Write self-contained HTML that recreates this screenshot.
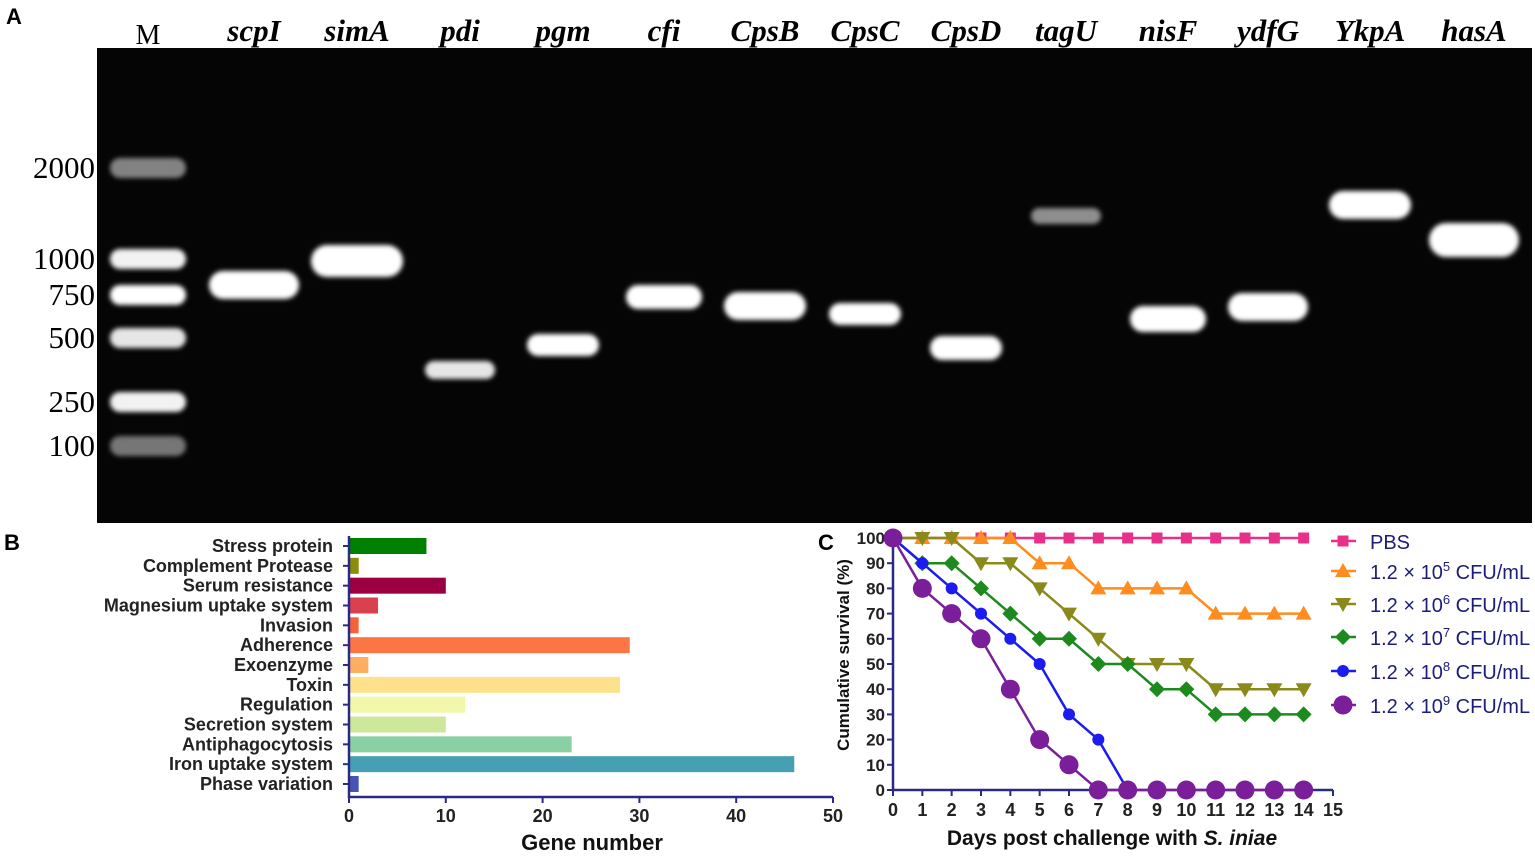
<!DOCTYPE html>
<html><head><meta charset="utf-8">
<style>
html,body{margin:0;padding:0;background:#fff;width:1535px;height:858px;overflow:hidden}
svg{display:block}
.ser{font-family:"Liberation Serif",serif}
.sans{font-family:"Liberation Sans",sans-serif}
</style></head>
<body>
<svg id="fig" width="1535" height="858" viewBox="0 0 1535 858" xmlns="http://www.w3.org/2000/svg">
<defs>
<filter id="glow" x="-30%" y="-80%" width="160%" height="260%"><feGaussianBlur stdDeviation="2.5"/></filter>
</defs>
<g id="panelA">
<text x="6" y="24" class="sans" font-size="22" font-weight="bold">A</text>
<rect x="97" y="48" width="1435" height="475" fill="#050505"/>
</g>
<g id="panelB">
<text x="4" y="550" class="sans" font-size="22" font-weight="bold">B</text>
</g>
<g id="panelC">
<text x="818" y="550" class="sans" font-size="22" font-weight="bold">C</text>
</g>
</svg>
<script>
const NS="http://www.w3.org/2000/svg";
function mk(tag,attrs,parent,txt){const e=document.createElementNS(NS,tag);for(const k in attrs)e.setAttribute(k,attrs[k]);if(txt!==undefined)e.textContent=txt;parent.appendChild(e);return e;}

/* ---------- Panel A: gel ---------- */
const laneNames=["M","scpI","simA","pdi","pgm","cfi","CpsB","CpsC","CpsD","tagU","nisF","ydfG","YkpA","hasA"];
const laneX=[148,254,357,460,563,664,765,865,966,1066,1168,1268,1370,1474];
const markerSizes=["2000","1000","750","500","250","100"];
const markerY=[168,259,295,338,402,446];
const markerBright=[0.5,0.95,1,0.9,0.95,0.45];
const bandY=[285,261,370,345,297,306,314,348,216,319,307,205,240];
const bandW=[90,92,70,72,76,82,72,72,70,76,80,82,90];
const bandH=[28,32,18,22,24,28,22,24,16,26,28,28,34];
const bandBright=[1,1,0.9,1,1,1,1,1,0.55,1,1,1,1];
const gA=document.getElementById('panelA');
laneNames.forEach((n,i)=>{
  const t=mk('text',{x:laneX[i],y:i===0?44:41,'text-anchor':'middle','font-size':i===0?28:31,'font-style':i===0?'normal':'italic','font-weight':i===0?'normal':'bold',class:'ser',fill:'#000'},gA,n);
  
  
});
markerSizes.forEach((s,i)=>{
  const t=mk('text',{x:95,y:markerY[i]+10,'text-anchor':'end','font-size':31,class:'ser',fill:'#000'},gA,s);
  
  
  const b=mk('rect',{x:laneX[0]-38,y:markerY[i]-10,width:76,height:20,rx:10,fill:'#fff',opacity:markerBright[i],filter:'url(#glow)'},gA);
  
  
});
bandY.forEach((y,i)=>{
  const b=mk('rect',{x:laneX[i+1]-bandW[i]/2,y:y-bandH[i]/2,width:bandW[i],height:bandH[i],rx:bandH[i]/2,fill:'#fff',opacity:bandBright[i],filter:'url(#glow)'},gA);
  
  
});

/* ---------- Panel B: bars ---------- */
const cats=["Stress protein","Complement Protease","Serum resistance","Magnesium uptake system","Invasion","Adherence","Exoenzyme","Toxin","Regulation","Secretion system","Antiphagocytosis","Iron uptake system","Phase variation"];
const geneCounts=[8,1,10,3,1,29,2,28,12,10,23,46,1];
const barColors=["#008000","#8b8b0c","#9b0040","#d9414f","#f4623b","#fd7544","#fdae62","#fde18c","#f2f8aa","#cee89b","#89d0a5","#479fb4","#4555b1"];
const bTicks=[0,10,20,30,40,50];
const gB=document.getElementById('panelB');
const bx=v=>349+v*(833-349)/50;
const by=i=>546+i*(784-546)/12;
const axc="#2a2a86";
cats.forEach((c,i)=>{
  const r=mk('rect',{x:bx(0),y:by(i)-8,width:bx(geneCounts[i])-bx(0),height:16,fill:barColors[i]},gB);
  
  
  const t=mk('text',{x:333,y:by(i)+6,'text-anchor':'end','font-size':18,'font-weight':'bold',class:'sans',fill:'#222'},gB,c);
  
  
  mk('line',{x1:343,x2:349,y1:by(i),y2:by(i),stroke:axc,'stroke-width':2},gB);
});
const bax=mk('path',{d:`M349,536 V797 H833`,fill:'none',stroke:axc,'stroke-width':2.5},gB);


bTicks.forEach(v=>{
  mk('line',{x1:bx(v),x2:bx(v),y1:797,y2:803,stroke:axc,'stroke-width':2},gB);
  const t=mk('text',{x:bx(v),y:822,'text-anchor':'middle','font-size':18,'font-weight':'bold',class:'sans',fill:'#222'},gB,v);
  
  
});
const bt=mk('text',{x:592,y:850,'text-anchor':'middle','font-size':22,'font-weight':'bold',class:'sans',fill:'#111'},gB,'Gene number');



/* ---------- Panel C: survival ---------- */
const days=[0,1,2,3,4,5,6,7,8,9,10,11,12,13,14];
const sPBS=[100,100,100,100,100,100,100,100,100,100,100,100,100,100,100];
const s1e5=[100,100,100,100,100,90,90,80,80,80,80,70,70,70,70];
const s1e6=[100,100,100,90,90,80,70,60,50,50,50,40,40,40,40];
const s1e7=[100,90,90,80,70,60,60,50,50,40,40,30,30,30,30];
const s1e8=[100,90,80,70,60,50,30,20,0];
const s1e9=[100,80,70,60,40,20,10,0,0,0,0,0,0,0,0];
const seriesNames=["PBS","1e5","1e6","1e7","1e8","1e9"];
const seriesExp=["","5","6","7","8","9"];
const seriesColors=["#e8308a","#ff8c1e","#8a8a1c","#1c8a1c","#1c1cf0","#7a1e9a"];
const seriesMarkers=["square","tri","tridown","diamond","circle","bigcircle"];
const allSeries=[sPBS,s1e5,s1e6,s1e7,s1e8,s1e9];
const cTicksX=[0,1,2,3,4,5,6,7,8,9,10,11,12,13,14,15];
const cTicksY=[0,10,20,30,40,50,60,70,80,90,100];
const gC=document.getElementById('panelC');
const cx=d=>893+d*(1333-893)/15;
const cy=v=>790-v*(790-538)/100;
const cax=mk('path',{d:`M893,538 V790 H1333`,fill:'none',stroke:axc,'stroke-width':2.5},gC);


cTicksX.forEach(d=>{
  mk('line',{x1:cx(d),x2:cx(d),y1:790,y2:796,stroke:axc,'stroke-width':2},gC);
  const t=mk('text',{x:cx(d),y:816,'text-anchor':'middle','font-size':18,'font-weight':'bold',class:'sans',fill:'#222'},gC,d);
  
  
});
cTicksY.forEach(v=>{
  mk('line',{x1:887,x2:893,y1:cy(v),y2:cy(v),stroke:axc,'stroke-width':2},gC);
  const t=mk('text',{x:885,y:cy(v)+6,'text-anchor':'end','font-size':17,'font-weight':'bold',class:'sans',fill:'#222'},gC,v);
  
  
});
const yt=mk('text',{x:0,y:0,transform:'translate(849,655) rotate(-90)','text-anchor':'middle','font-size':17,'font-weight':'bold',class:'sans',fill:'#111'},gC,'Cumulative survival (%)');


const xt=mk('text',{x:1112,y:845,'text-anchor':'middle','font-size':21,'font-weight':'bold',class:'sans',fill:'#111'},gC);


mk('tspan',{},xt,'Days post challenge with ');
mk('tspan',{'font-style':'italic'},xt,'S. iniae');
function marker(type,x,y,col,parent){
  if(type==='square')return mk('rect',{x:x-5.5,y:y-5.5,width:11,height:11,fill:col},parent);
  if(type==='tri')return mk('polygon',{points:`${x},${y-8} ${x+8},${y+6} ${x-8},${y+6}`,fill:col},parent);
  if(type==='tridown')return mk('polygon',{points:`${x-8},${y-6} ${x+8},${y-6} ${x},${y+8}`,fill:col},parent);
  if(type==='diamond')return mk('polygon',{points:`${x},${y-8} ${x+8},${y} ${x},${y+8} ${x-8},${y}`,fill:col},parent);
  if(type==='circle')return mk('circle',{cx:x,cy:y,r:6,fill:col},parent);
  return mk('circle',{cx:x,cy:y,r:9.5,fill:col},parent);
}
[0,1,2,3,4,5].forEach(si=>{
  const vals=allSeries[si];const col=seriesColors[si];
  const g=mk('g',{},gC);
  
  
  mk('polyline',{points:vals.map((v,i)=>cx(days[i])+','+cy(v)).join(' '),fill:'none',stroke:col,'stroke-width':2.5},g);
  vals.forEach((v,i)=>{
    const m=marker(seriesMarkers[si],cx(days[i]),cy(v),col,g);
    
    
  });
});
const legY=[541,571,604,637,671,705];
seriesNames.forEach((n,si)=>{
  const g=mk('g',{},gC);
  
  
  mk('line',{x1:1331,x2:1356,y1:legY[si],y2:legY[si],stroke:seriesColors[si],'stroke-width':2.5},g);
  marker(seriesMarkers[si],1343,legY[si],seriesColors[si],g);
  const t=mk('text',{x:1370,y:legY[si]+8,'font-size':20,class:'sans',fill:'#1c1c7a'},g);
  if(si===0){t.textContent='PBS';}
  else{
    mk('tspan',{},t,'1.2 \u00d7 10');
    mk('tspan',{dy:-8,'font-size':13},t,seriesExp[si]);
    mk('tspan',{dy:8},t,' CFU/mL');
  }
});
</script>
</body></html>
